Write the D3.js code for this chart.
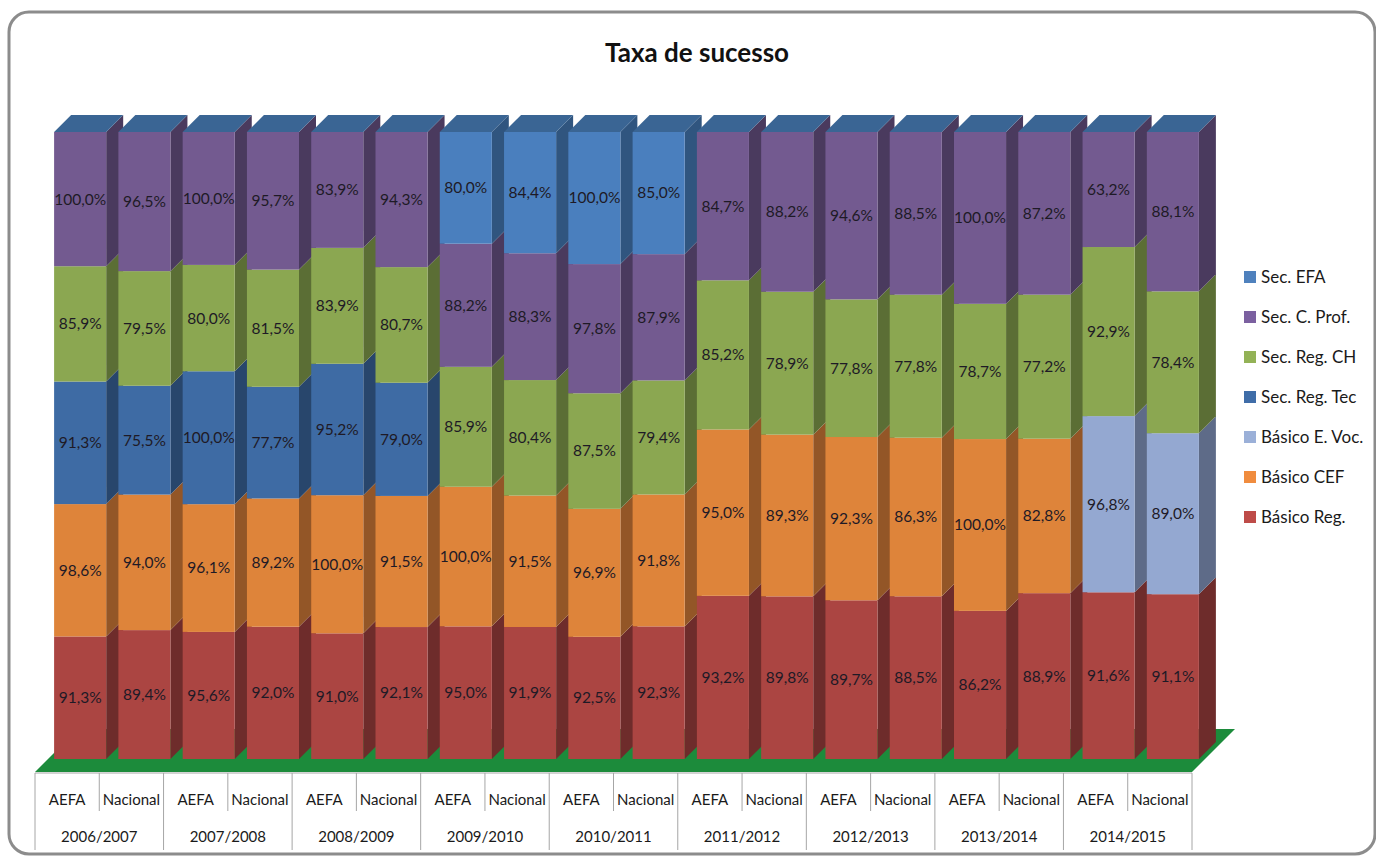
<!DOCTYPE html>
<html>
<head>
<meta charset="utf-8">
<script src="https://cdn.jsdelivr.net/npm/d3@7"></script>
<style>
  html, body { margin: 0; padding: 0; background: #fff; }
  svg { display: block; font-family: Lato, "Open Sans", sans-serif; }
</style>
</head>
<body>
<svg id="chart" width="1376" height="856"></svg>
<script>
// categories
const years = ["2006/2007", "2007/2008", "2008/2009", "2009/2010", "2010/2011",
               "2011/2012", "2012/2013", "2013/2014", "2014/2015"];
const groups = ["AEFA", "Nacional"];

// series, bottom to top
const seriesNames = ["Básico Reg.", "Básico CEF", "Básico E. Voc.", "Sec. Reg. Tec",
                     "Sec. Reg. CH", "Sec. C. Prof.", "Sec. EFA"];

const basicoReg  = [91.3, 89.4, 95.6, 92.0, 91.0, 92.1, 95.0, 91.9, 92.5, 92.3, 93.2, 89.8, 89.7, 88.5, 86.2, 88.9, 91.6, 91.1];
const basicoCEF  = [98.6, 94.0, 96.1, 89.2, 100.0, 91.5, 100.0, 91.5, 96.9, 91.8, 95.0, 89.3, 92.3, 86.3, 100.0, 82.8, 0, 0];
const basicoEVoc = [0, 0, 0, 0, 0, 0, 0, 0, 0, 0, 0, 0, 0, 0, 0, 0, 96.8, 89.0];
const secRegTec  = [91.3, 75.5, 100.0, 77.7, 95.2, 79.0, 0, 0, 0, 0, 0, 0, 0, 0, 0, 0, 0, 0];
const secRegCH   = [85.9, 79.5, 80.0, 81.5, 83.9, 80.7, 85.9, 80.4, 87.5, 79.4, 85.2, 78.9, 77.8, 77.8, 78.7, 77.2, 92.9, 78.4];
const secCProf   = [100.0, 96.5, 100.0, 95.7, 83.9, 94.3, 88.2, 88.3, 97.8, 87.9, 84.7, 88.2, 94.6, 88.5, 100.0, 87.2, 63.2, 88.1];
const secEFA     = [0, 0, 0, 0, 0, 0, 80.0, 84.4, 100.0, 85.0, 0, 0, 0, 0, 0, 0, 0, 0];

const seriesValues = [basicoReg, basicoCEF, basicoEVoc, secRegTec, secRegCH, secCProf, secEFA];

// colours: front, side, legend key
const frontCol  = ["#AB4542", "#DE843A", "#94A8D1", "#3E6BA4", "#8BA751", "#735A90", "#4A7FBE"];
const sideCol   = ["#6E2C2B", "#935627", "#5E6B88", "#28466C", "#5B6E35", "#4A3A5E", "#30557F"];
const legendCol = ["#BE4B48", "#F08C3E", "#9BB0D8", "#3F6DA8", "#93B256", "#7B60A0", "#4F81BD"];
const topCol = "#3A6594";

// build rows for d3.stack
const cats = [];
years.forEach(y => groups.forEach(g => cats.push({ year: y, group: g })));
const rows = cats.map((c, i) => {
  const r = { key: i };
  seriesNames.forEach((s, k) => { r[s] = seriesValues[k][i]; });
  return r;
});

const stacked = d3.stack().keys(seriesNames).offset(d3.stackOffsetExpand)(rows);

const svg = d3.select("#chart");

// frame
svg.append("rect")
  .attr("x", 9).attr("y", 12).attr("width", 1366).attr("height", 842)
  .attr("rx", 20).attr("fill", "#fff")
  .attr("stroke", "#8c8c8c").attr("stroke-width", 3);

// title
svg.append("text")
  .attr("x", 697).attr("y", 62)
  .attr("text-anchor", "middle")
  .attr("font-size", 26).attr("font-weight", "bold").attr("fill", "#111")
  .text("Taxa de sucesso");

const axisY = 772;      // floor front edge
const colDepth = 17;    // 3d depth of columns
const colOffset = 13;   // how far columns sit behind the floor edge
const floorDepth = 43;

const x = d3.scaleBand()
  .domain(rows.map(r => r.key))
  .range([35, 1192])
  .paddingInner(0.19)
  .paddingOuter(0.095);

const xOuter = d3.scaleBand()
  .domain(rows.map(r => r.key))
  .range([35, 1192]);

const y = d3.scaleLinear().domain([0, 1]).range([axisY - colOffset, 132]);

// floor
svg.append("path")
  .attr("fill", "#1C8B3B")
  .attr("d", `M35,${axisY} L1192,${axisY} L${1192 + floorDepth},${axisY - floorDepth} L${35 + floorDepth},${axisY - floorDepth} Z`);

// columns, left to right so the next front face covers the side face
const colG = svg.append("g");
rows.forEach((r, i) => {
  const x0 = x(r.key) + colOffset;
  const w = x.bandwidth();
  const g = colG.append("g");
  stacked.forEach((layer, k) => {
    const d = layer[i];
    if (d[1] - d[0] <= 0) return;
    const yt = y(d[1]), yb = y(d[0]);
    g.append("path")
      .attr("fill", sideCol[k])
      .attr("d", `M${x0 + w},${yb} L${x0 + w + colDepth},${yb - colDepth} L${x0 + w + colDepth},${yt - colDepth} L${x0 + w},${yt} Z`);
    g.append("rect")
      .attr("x", x0).attr("y", yt)
      .attr("width", w).attr("height", yb - yt)
      .attr("fill", frontCol[k]);
  });
  const yTop = y(1);
  g.append("path")
    .attr("fill", topCol)
    .attr("d", `M${x0},${yTop} L${x0 + w},${yTop} L${x0 + w + colDepth},${yTop - colDepth} L${x0 + colDepth},${yTop - colDepth} Z`);
});

// data labels
const fmt = v => v.toFixed(1).replace(".", ",") + "%";
const labG = svg.append("g").attr("font-size", 15.5).attr("fill", "#1e1a26").attr("text-anchor", "middle");
rows.forEach((r, i) => {
  const cx = x(r.key) + colOffset + x.bandwidth() / 2;
  stacked.forEach((layer, k) => {
    const d = layer[i];
    const v = seriesValues[k][i];
    if (!v) return;
    labG.append("text")
      .attr("x", cx)
      .attr("y", (y(d[0]) + y(d[1])) / 2)
      .attr("dy", "0.35em")
      .text(fmt(v));
  });
});

// category axis
const axG = svg.append("g");
axG.append("line")
  .attr("x1", 35).attr("x2", 1192).attr("y1", axisY + 1).attr("y2", axisY + 1)
  .attr("stroke", "#a6a6a6").attr("stroke-width", 1);
rows.forEach((r, i) => {
  const left = xOuter(r.key);
  const long = i % 2 === 0;
  axG.append("line")
    .attr("x1", left).attr("x2", left)
    .attr("y1", axisY + 1).attr("y2", long ? 850 : 811)
    .attr("stroke", "#a6a6a6");
  axG.append("text")
    .attr("x", left + xOuter.bandwidth() / 2).attr("y", 800)
    .attr("dy", "0.35em").attr("text-anchor", "middle")
    .attr("font-size", 15).attr("fill", "#1a1a1a")
    .text(cats[i].group);
});
axG.append("line")
  .attr("x1", 1192).attr("x2", 1192).attr("y1", axisY + 1).attr("y2", 850)
  .attr("stroke", "#a6a6a6");
years.forEach((yr, j) => {
  const left = xOuter(j * 2);
  axG.append("text")
    .attr("x", left + xOuter.bandwidth()).attr("y", 837)
    .attr("dy", "0.35em").attr("text-anchor", "middle")
    .attr("font-size", 15).attr("fill", "#1a1a1a")
    .text(yr);
});

// legend
const legend = svg.append("g").attr("font-size", 17).attr("fill", "#1a1a1a");
seriesNames.slice().reverse().forEach((s, j) => {
  const k = seriesNames.length - 1 - j;
  const ly = 277 + j * 40;
  legend.append("rect")
    .attr("x", 1244).attr("y", ly - 6).attr("width", 12).attr("height", 12)
    .attr("fill", legendCol[k]);
  legend.append("text")
    .attr("x", 1261).attr("y", ly).attr("dy", "0.35em")
    .text(s);
});
</script>
</body>
</html>
